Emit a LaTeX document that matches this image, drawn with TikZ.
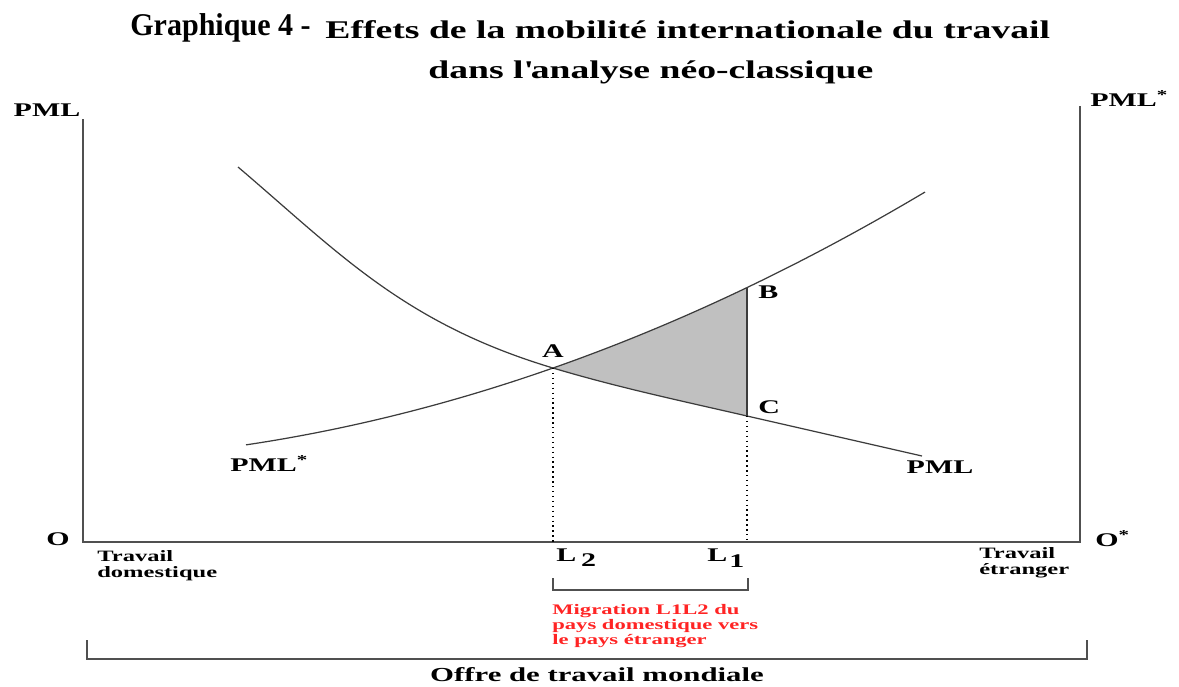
\documentclass[tikz,border=0pt]{standalone}
\usepackage{fontspec}
\setmainfont{Liberation Serif}
\newfontfamily\widefont{Liberation Serif}[FakeStretch=1.55]
\newfontfamily\titlefont{Liberation Serif}[FakeStretch=1.48]
\newfontfamily\narrowfont{Liberation Serif}[FakeStretch=0.95]
\usetikzlibrary{positioning}
\definecolor{AxisGray}  {HTML}{505050}
\definecolor{CurveGray} {HTML}{3C3C3C}
\definecolor{ShadeGray} {HTML}{C0C0C0}
\definecolor{MigRed}    {HTML}{FF2424}
\tikzset{
  axis/.style={draw=AxisGray,line width=1.2pt},
  curve/.style={draw=CurveGray,line width=0.7pt},
  guide/.style={draw=black,dotted,line width=0.8pt},
  edge/.style={draw=CurveGray,line width=1pt},
  brk/.style={draw=AxisGray,line width=1pt},
  lbl/.style={font=\widefont\bfseries\fontsize{11}{13}\selectfont,inner sep=0pt},
  small/.style={font=\widefont\bfseries\fontsize{9}{9.4}\selectfont,
                inner sep=0pt,align=left},
  mig/.style={font=\widefont\bfseries\fontsize{8.3}{8.6}\selectfont,
              inner sep=0pt,align=left,text=MigRed},
  ttl/.style={font=\titlefont\bfseries\fontsize{14.5}{16}\selectfont,inner sep=0pt},
  declare function={
    pmlstar(\x)=542-(127.7+0.25*(\x-399)+(0.01811*(\x-399))*(0.01811*(\x-399)));
  },
}
\begin{document}
\begin{tikzpicture}[x=0.02cm,y=-0.02cm]
  \useasboundingbox (0,0) rectangle (1179,686);

  % title
  \node[font=\narrowfont\bfseries\fontsize{18}{20}\selectfont,inner sep=0pt,
        anchor=base west] (gnum) at (130,36) {Graphique 4 -};
  \node[ttl,anchor=base west] (ttl1) at (325,39)
    {Effets de la mobilité internationale du travail};
  \node[ttl,anchor=base west] (ttl2) at (428,79)
    {dans l\textquotesingle analyse néo-classique};

  % axes
  \coordinate (O)     at (83,542);
  \coordinate (Otop)  at (83,119);
  \coordinate (Os)    at (1080,542);
  \coordinate (Ostop) at (1080,106);
  \draw[axis] (Otop) -- (O) -- (Os) -- (Ostop);

  \node[lbl] (pmlL) at (47,110) {PML};
  \node[lbl,anchor=west] (pmlR) at (1090,99) {PML\textsuperscript{*}};
  \node[lbl] (origin) at (58,539) {O};
  \node[lbl,anchor=west] (originS) at (1095,539) {O\textsuperscript{*}};
  \node[small,anchor=north west] (travD) at (97,550) {Travail\\domestique};
  \node[small,anchor=north west] (travE) at (979,547) {Travail\\étranger};

  % points on the curves
  \coordinate (A) at (553,{pmlstar(553)});
  \coordinate (B) at (747,{pmlstar(747)});
  \coordinate (C) at (747,416);
  \coordinate (pmlbeg) at (238,167);
  \coordinate (pmlend) at (922,456);

  % shaded gain
  \fill[ShadeGray] plot[domain=553:747,samples=40] (\x,{pmlstar(\x)})
    -- (C) .. controls (682,401) and (618,387.5) .. (A) -- cycle;

  % curves
  \draw[curve] (pmlbeg) .. controls (338,252) and (403,323) .. (A)
    .. controls (618,387.5) and (682,401) .. (C) -- (pmlend);
  \draw[curve] plot[domain=246:925,samples=120] (\x,{pmlstar(\x)});

  \draw[guide] (A) -- (A |- O);
  \draw[guide] (C) -- (C |- O);
  \draw[edge] (B) -- (C);

  \node[lbl,above=0.2cm of A] (lA) {A};
  \node[lbl,anchor=west] (lB) at ([xshift=0.22cm,yshift=-0.1cm]B) {B};
  \node[lbl,anchor=west] (lC) at ([xshift=0.22cm,yshift=0.18cm]C) {C};
  \node[lbl,anchor=west] (lstar) at (230,464) {PML\textsuperscript{*}};
  \node[lbl] (lpml) at (940,467) {PML};

  % L2 and L1
  \node[lbl,anchor=north west,font=\widefont\bfseries\fontsize{11}{12}\selectfont]
    (l2) at (556,548) {L\hspace{0.25em}\raisebox{-0.3em}{2}};
  \node[lbl,anchor=north west,font=\widefont\bfseries\fontsize{11}{12}\selectfont]
    (l1) at (707,548) {L\hspace{0.1em}\raisebox{-0.35em}{1}};

  % migration bracket
  \coordinate (m2top) at (553,578);
  \coordinate (m2bot) at (553,590);
  \coordinate (m1bot) at (748,590);
  \coordinate (m1top) at (748,578);
  \draw[brk] (m2top) -- (m2bot) -- (m1bot) -- (m1top);
  \node[mig,anchor=north west] (mig) at (552,604)
    {Migration L1L2 du\\pays domestique vers\\le pays étranger};

  % world labour supply
  \coordinate (wLtop) at (87,640);
  \coordinate (wLbot) at (87,659);
  \coordinate (wRbot) at (1087,659);
  \coordinate (wRtop) at (1087,640);
  \draw[brk] (wLtop) -- (wLbot) -- (wRbot) -- (wRtop);
  \node[lbl,anchor=base,font=\widefont\bfseries\fontsize{11.3}{13}\selectfont]
    (offre) at (597,681) {Offre de travail mondiale};

\end{tikzpicture}
\end{document}
